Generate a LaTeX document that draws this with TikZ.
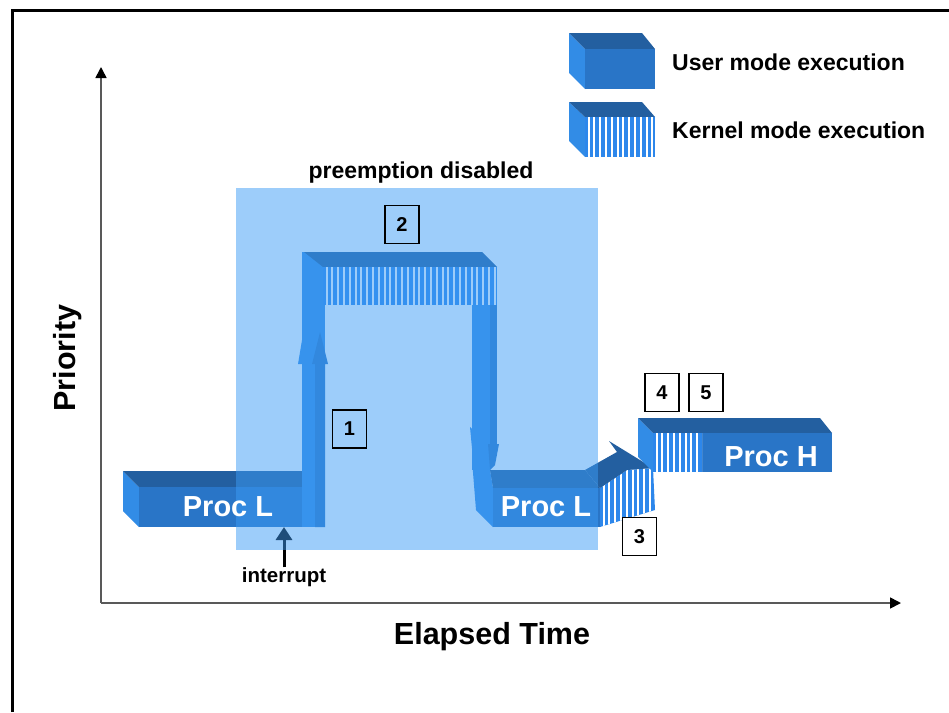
\documentclass[tikz,border=0pt]{standalone}
\usepackage{fontspec}
\setmainfont{Liberation Sans}
\usetikzlibrary{arrows.meta}
\definecolor{cfront}{RGB}{41,117,199}
\definecolor{ctop}{RGB}{35,95,160}
\definecolor{cside}{RGB}{50,140,230}
\definecolor{cstripe}{RGB}{45,135,235}
\definecolor{covl}{RGB}{60,155,245}
\newcommand\kstripes[4]{%
  \begin{scope}
    \clip (#1,#2) rectangle (#3,#4);
    \fill[cstripe] (#1,#2) rectangle (#3,#4);
    \foreach \i in {0,...,40} {\fill[white] ({#1+2.5+\i*5.8},#2) rectangle ++(2,{#4-#2});}
  \end{scope}}
\tikzset{
  axis/.style={draw=black!65, line width=1.6, -{Triangle[length=11,width=11,color=black]}},
  lbl/.style={font=\fontsize{23}{27}\selectfont\bfseries, inner sep=0},
  axlbl/.style={font=\fontsize{30.5}{35}\selectfont\bfseries, inner sep=0},
  proclbl/.style={font=\fontsize{29}{34}\selectfont\bfseries, text=white, inner sep=0},
  numbox/.style={draw=black, line width=1.3, minimum width=34, minimum height=38, inner sep=0, font=\fontsize{20}{24}\selectfont\bfseries},
  whitebox/.style={numbox, fill=white},
  intlbl/.style={font=\fontsize{20.5}{24}\selectfont\bfseries, inner sep=0}
}
\begin{document}
\begin{tikzpicture}[x=1pt,y=-1pt]
\useasboundingbox (0,0) rectangle (949,712);
% frame
\draw[line width=3] (12,712) -- (12,10) -- (949,10);
% axes
\coordinate (O) at (101,603);
\coordinate (ytip) at (101,67);
\coordinate (xtip) at (901,603);
\draw[axis] (O) -- (ytip);
\draw[axis] (O) -- (xtip);
% ---- left Proc L box
\fill[cside] (123,471) -- (139,487) -- (139,527) -- (123,511) -- cycle;
\fill[ctop] (123,471) -- (302,471) -- (318,487) -- (139,487) -- cycle;
\fill[cfront] (139,487) rectangle (325,527);
% up column (arrow 1)
\fill[cside] (302,252) rectangle (325,527);
\fill[cfront] (320,332) -- (328,364) -- (325,364) -- (325,527) -- (315,527) -- (315,364) -- (312,364) -- cycle;
\fill[cside] (302,340) -- (298,364) -- (302,364) -- cycle;
% top bar (kernel)
\fill[ctop] (304,252) -- (482,252) -- (497,267) -- (323,267) -- cycle;
\kstripes{323}{267}{497}{305}
% down column
\fill[cside] (472,305) rectangle (490,470);
\fill[cfront] (490,305) rectangle (497,445);
\fill[cside] (470,427) -- (488,444) -- (490,470) -- (474,470) -- cycle;
\fill[cfront] (488,444) -- (499,444) -- (495,465) -- (490,470) -- cycle;
% right Proc L box
\fill[cside] (472,460) -- (490,470) -- (493,488) -- (493,527) -- (476,510) -- cycle;
\fill[ctop] (490,470) -- (585,470) -- (600,488) -- (493,488) -- cycle;
\fill[cfront] (493,488) rectangle (600,527);
% arrow 3 (kernel, rising to Proc H)
\begin{scope}
  \clip (600,488) -- (627,470) -- (653,468) -- (655,510) -- (600,527) -- cycle;
  \kstripes{600}{460}{656}{528}
\end{scope}
\fill[ctop] (585,470) -- (617,452) -- (609,441) -- (653,468) -- (627,470) -- (600,488) -- cycle;
% Proc H box
\fill[cside] (638,418) -- (653,433) -- (653,472) -- (638,457) -- cycle;
\fill[ctop] (638,418) -- (820,418) -- (832,433) -- (653,433) -- cycle;
\fill[cfront] (653,433) rectangle (832,472);
\kstripes{653}{433}{702}{472}
% interrupt arrow
\node[intlbl] (intr) at (284,577) {interrupt};
\coordinate (intrtip) at (284,527);
\draw[line width=3, -{Triangle[length=13,width=16]}] (intr.north) -- (intrtip);
% preemption-disabled overlay
\fill[covl, opacity=0.5] (236,188) rectangle (598,550);
% labels on boxes
\node[proclbl] (pl1) at (228,507) {Proc L};
\node[proclbl] (pl2) at (546,507) {Proc L};
\node[proclbl] (ph) at (771,457) {Proc H};
\node[lbl] (pre) at (421,173) {preemption disabled};
\node[numbox] (n1) at (349.5,429) {1};
\node[numbox] (n2) at (402,224.5) {2};
\node[whitebox] (n3) at (639.5,536.5) {3};
\node[whitebox] (n4) at (662,392.5) {4};
\node[whitebox] (n5) at (706,392.5) {5};
% axis labels
\node[axlbl, rotate=90] (prio) at (68,358) {Priority};
\node[axlbl] (etime) at (492,637) {Elapsed Time};
% legend
\fill[cside] (569,33) -- (585,49) -- (585,89) -- (569,73) -- cycle;
\fill[ctop] (569,33) -- (642,33) -- (655,49) -- (585,49) -- cycle;
\fill[cfront] (585,49) rectangle (655,89);
\fill[cside] (569,102) -- (585,117) -- (585,157) -- (569,141) -- cycle;
\fill[ctop] (569,102) -- (642,102) -- (655,117) -- (585,117) -- cycle;
\kstripes{585}{117}{655}{157}
\node[lbl, anchor=west] (leg1) at (672,62) {User mode execution};
\node[lbl, anchor=west] (leg2) at (672,130) {Kernel mode execution};
\end{tikzpicture}
\end{document}
